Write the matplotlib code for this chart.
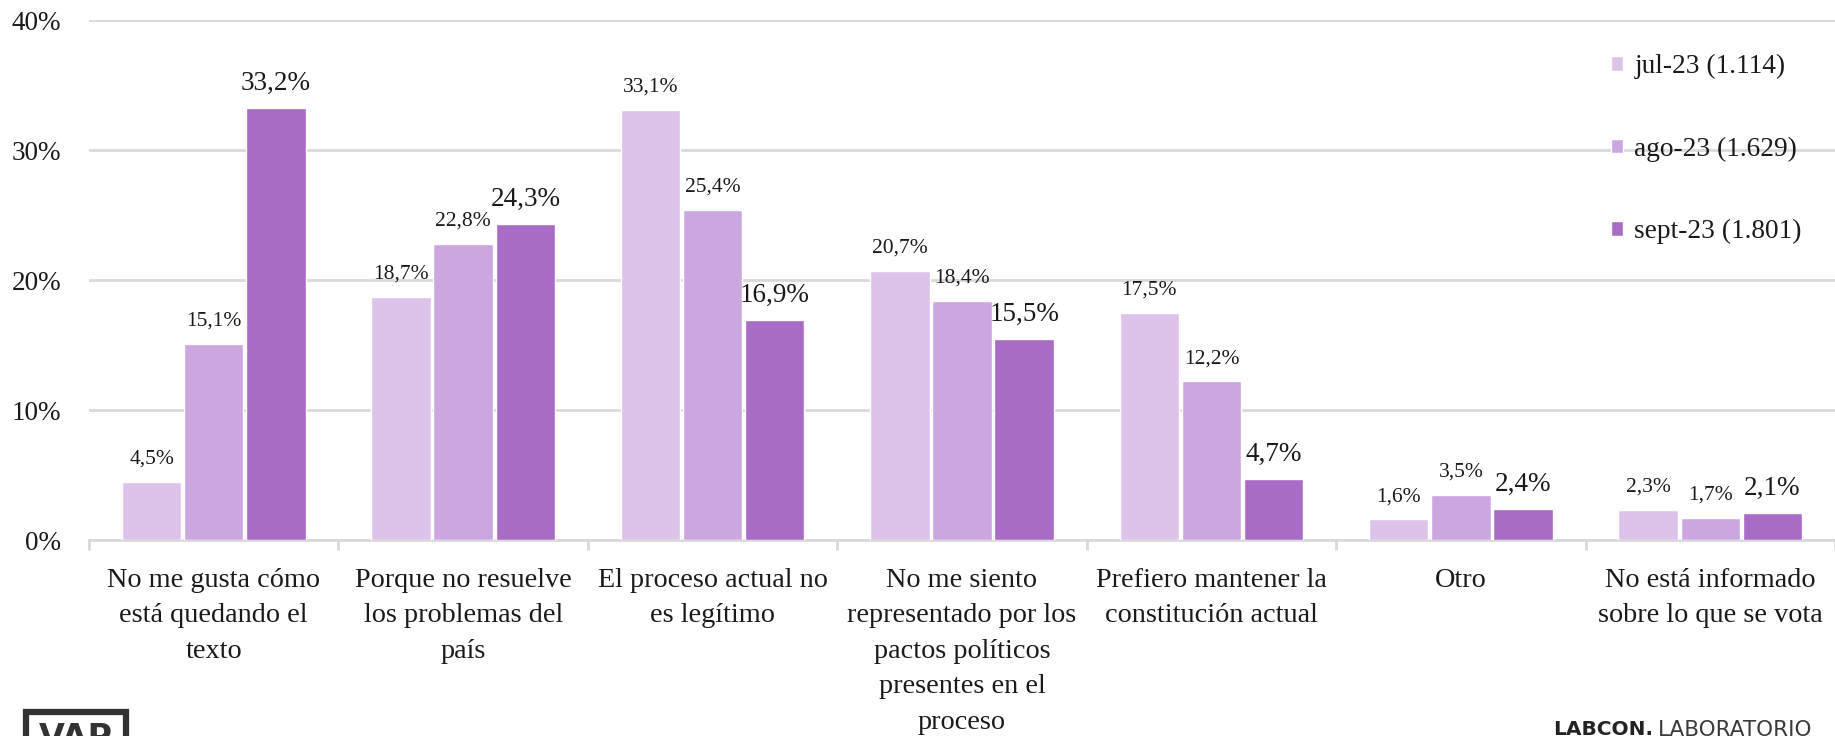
import matplotlib
matplotlib.use("Agg")
import matplotlib.pyplot as plt
import matplotlib.patches as mpatches
import numpy as np

plt.rcParams['font.family'] = ['Liberation Serif', 'DejaVu Serif']

# datos
categorias = [
    "No me gusta cómo\nestá quedando el\ntexto",
    "Porque no resuelve\nlos problemas del\npaís",
    "El proceso actual no\nes legítimo",
    "No me siento\nrepresentado por los\npactos políticos\npresentes en el\nproceso",
    "Prefiero mantener la\nconstitución actual",
    "Otro",
    "No está informado\nsobre lo que se vota",
]
series = ["jul-23 (1.114)", "ago-23 (1.629)", "sept-23 (1.801)"]
jul_23 = [4.5, 18.7, 33.1, 20.7, 17.5, 1.6, 2.3]
ago_23 = [15.1, 22.8, 25.4, 18.4, 12.2, 3.5, 1.7]
sept_23 = [33.2, 24.3, 16.9, 15.5, 4.7, 2.4, 2.1]
colores = ["#ddc3e9", "#cca7df", "#a86cc6"]
yticks = [0, 10, 20, 30, 40]

fig = plt.figure(figsize=(18.35, 7.36), dpi=100)
ax = fig.add_axes([89 / 1835, 1 - 540 / 736, 1 - 89 / 1835, 520 / 736])

x = np.arange(len(categorias))
ancho = 0.238
paso = 0.249
tam_lbl = [15.5, 15.5, 19.5]

for i, (valores, nombre, color) in enumerate(zip([jul_23, ago_23, sept_23], series, colores)):
    pos = x + (i - 1) * paso
    barras = ax.bar(pos, valores, ancho, color=color, edgecolor="white",
                    linewidth=1.0, label=nombre, zorder=3)
    for b, v in zip(barras, valores):
        ax.annotate(f"{v:.1f}%".replace(".", ","),
                    (b.get_x() + b.get_width() / 2, v),
                    xytext=(0, 13), textcoords="offset points",
                    ha="center", va="baseline", fontsize=tam_lbl[i], color="#1a1a1a")

ax.set_xlim(-0.5, len(categorias) - 0.5)
ax.set_ylim(0, 40)
ax.set_yticks(yticks)
ax.set_yticklabels([f"{t}%" for t in yticks], fontsize=19.5, color="#1a1a1a")
ax.yaxis.grid(True, color="#d9d9d9", linewidth=2, zorder=0)
ax.tick_params(axis="y", length=0, pad=20)

ax.set_xticks(x)
ax.set_xticklabels(categorias, fontsize=20.3, color="#1a1a1a", linespacing=1.55)
ax.set_xticks(np.arange(-0.5, len(categorias)), minor=True)
ax.tick_params(axis="x", which="major", length=0, pad=20)
ax.tick_params(axis="x", which="minor", length=7, width=2, color="#d9d9d9")

for s in ["top", "right", "left"]:
    ax.spines[s].set_visible(False)
ax.spines["bottom"].set_color("#d9d9d9")
ax.spines["bottom"].set_linewidth(2)

leg = ax.legend(loc="upper left", bbox_to_anchor=(1611 / 1835, 1 - 54 / 736),
                bbox_transform=fig.transFigure, frameon=False, fontsize=19.7,
                handlelength=0.45, handleheight=0.45, handletextpad=0.4,
                labelspacing=2.1, borderaxespad=0, borderpad=0)
for t in leg.get_texts():
    t.set_color("#1a1a1a")

# logos al pie
fig.patches.append(mpatches.Rectangle((26 / 1835, -0.03), 100 / 1835, 0.03 + 1 - 712 / 736,
                                      transform=fig.transFigure, fill=False,
                                      edgecolor="#333333", linewidth=4.5))
fig.text(76 / 1835, 1 - 722 / 736, "VAP", family="DejaVu Sans", fontweight="bold",
         fontsize=24, color="#333333", ha="center", va="top")
fig.text(1553 / 1835, 1 - 720 / 736, "LABCON.", family="DejaVu Sans", fontweight="bold",
         fontsize=14.5, color="#222222", ha="left", va="top")
fig.text(1812 / 1835, 1 - 720 / 736, "LABORATORIO", family="DejaVu Sans",
         fontsize=15.5, color="#3a3a3a", ha="right", va="top")

fig.savefig("out.png", dpi=100, facecolor="white")
